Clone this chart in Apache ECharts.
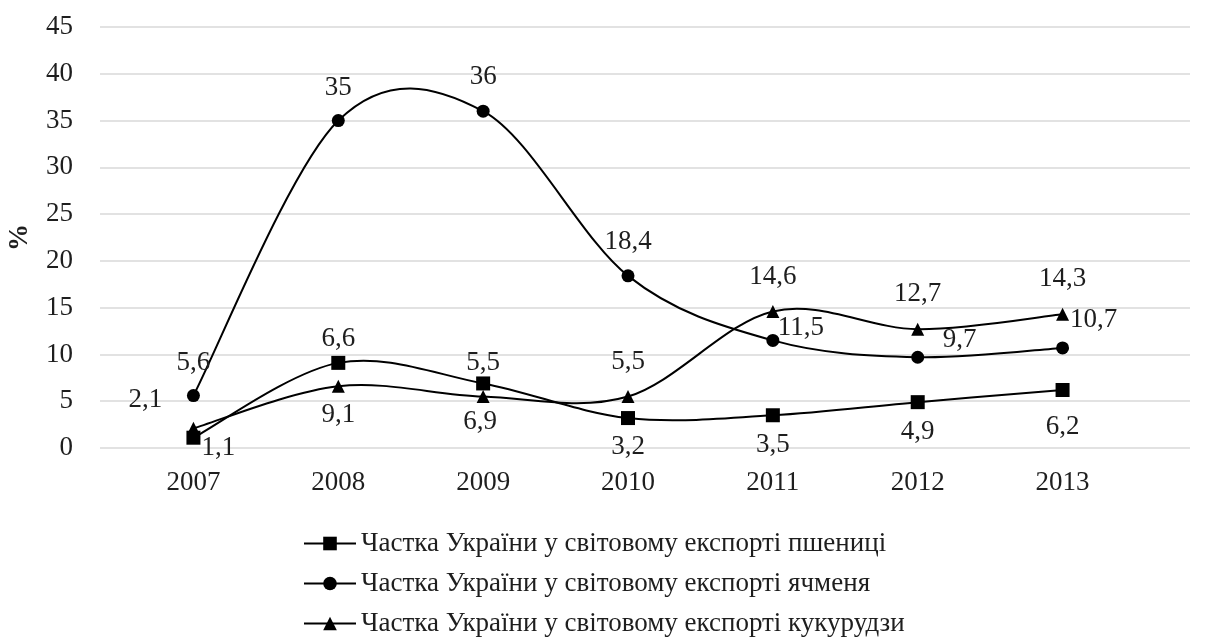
<!DOCTYPE html>
<html>
<head>
<meta charset="utf-8">
<script src="https://cdn.jsdelivr.net/npm/echarts@6/dist/echarts.min.js"></script>
<style>
  html, body { margin: 0; padding: 0; background: #fff; }
  #chart { width: 1205px; height: 641px; }
</style>
</head>
<body>
<div id="chart"></div>
<script>
// Years on the category axis
const years = ['2007', '2008', '2009', '2010', '2011', '2012', '2013'];

// Ukraine's share of world exports, %
const wheat  = [1.1, 9.1, 6.9, 3.2, 3.5, 4.9, 6.2];
const barley = [5.6, 35, 36, 18.4, 11.5, 9.7, 10.7];
const maize  = [2.1, 6.6, 5.5, 5.5, 14.6, 12.7, 14.3];

// Series names (legend text)
const nameWheat  = 'Частка України у світовому експорті пшениці';
const nameBarley = 'Частка України у світовому експорті ячменя';
const nameMaize  = 'Частка України у світовому експорті кукурудзи';

// Value axis scale
const yMin = 0, yMax = 45, yStep = 5;

// Label placement relative to each marker centre, [dx, dy] in px
const wheatLabelShift  = [[25, 10], [0, 52], [-3, 38], [0, 29], [0, 30], [0, 30], [0, 37]];
const barleyLabelShift = [[0, -33], [0, -33], [0, -34], [0, -34], [28, -13], [42, -17], [31, -28]];
const maizeLabelShift  = [[-48, -28], [0, -47], [0, -34], [0, -35], [0, -35], [0, -35], [0, -35]];

const FONT = '"Liberation Serif", "Times New Roman", serif';
const TEXT = '#1e1e1e';
const FS = 27;

function withLabels(values, shifts) {
  return values.map((v, i) => ({
    value: v,
    label: { offset: shifts[i] }
  }));
}

// Markers and value labels; the connecting curve is drawn separately
function markerSeries(name, symbol, size, values, shifts) {
  return {
    name: name,
    type: 'line',
    xAxisIndex: 0,
    yAxisIndex: 0,
    z: 3,
    symbol: symbol,
    symbolSize: size,
    lineStyle: { color: '#000', width: 2, opacity: 0 },
    itemStyle: { color: '#000' },
    label: {
      show: true,
      position: 'inside',
      color: TEXT,
      fontFamily: FONT,
      fontSize: FS,
      formatter: p => String(p.value).replace('.', ',')
    },
    emphasis: { disabled: true },
    data: withLabels(values, shifts)
  };
}

// Smooth curve through the points (cardinal spline, Bezier segments),
// positioned with the chart's own axes via api.coord
function curveSeries(values) {
  return {
    type: 'custom',
    coordinateSystem: 'cartesian2d',
    xAxisIndex: 0,
    yAxisIndex: 0,
    z: 2,
    silent: true,
    encode: { x: 0, y: 1 },
    data: [[0, values[0]]],
    renderItem: (params, api) => {
      const pts = values.map((v, i) => api.coord([i, v]));
      const n = pts.length;
      let d = 'M' + pts[0][0] + ' ' + pts[0][1];
      for (let i = 0; i < n - 1; i++) {
        const p0 = pts[Math.max(i - 1, 0)];
        const p1 = pts[i];
        const p2 = pts[i + 1];
        const p3 = pts[Math.min(i + 2, n - 1)];
        const c1x = p1[0] + (p2[0] - p0[0]) / 6;
        const c1y = p1[1] + (p2[1] - p0[1]) / 6;
        const c2x = p2[0] - (p3[0] - p1[0]) / 6;
        const c2y = p2[1] - (p3[1] - p1[1]) / 6;
        d += ' C' + c1x + ' ' + c1y + ' ' + c2x + ' ' + c2y + ' ' + p2[0] + ' ' + p2[1];
      }
      return {
        type: 'path',
        shape: { pathData: d },
        style: { fill: null, stroke: '#000', lineWidth: 2 }
      };
    }
  };
}

const chart = echarts.init(document.getElementById('chart'), null, { renderer: 'canvas' });

chart.setOption({
  animation: false,
  backgroundColor: '#fff',
  textStyle: { fontFamily: FONT },
  grid: [
    // data area
    { left: 121, right: 70, top: 27, bottom: 193, outerBoundsMode: 'none' },
    // full-width gridline band with the value scale
    { left: 100, right: 15, top: 27, bottom: 193, outerBoundsMode: 'none' }
  ],
  xAxis: [
    {
      type: 'category',
      gridIndex: 0,
      data: years,
      boundaryGap: true,
      axisLine: { show: false },
      axisTick: { show: false },
      axisLabel: { color: TEXT, fontFamily: FONT, fontSize: FS, margin: 21 }
    },
    {
      type: 'value',
      gridIndex: 1,
      show: false,
      min: 0,
      max: 1
    }
  ],
  yAxis: [
    {
      type: 'value',
      gridIndex: 0,
      min: yMin, max: yMax, interval: yStep,
      axisLine: { show: false },
      axisTick: { show: false },
      axisLabel: { show: false },
      splitLine: { show: false }
    },
    {
      type: 'value',
      gridIndex: 1,
      min: yMin, max: yMax, interval: yStep,
      name: '%',
      nameLocation: 'middle',
      nameRotate: 90,
      nameGap: 66,
      nameTextStyle: { color: TEXT, fontFamily: FONT, fontSize: FS, fontWeight: 'bold' },
      axisLine: { show: false },
      axisTick: { show: false },
      axisLabel: { color: TEXT, fontFamily: FONT, fontSize: FS, margin: 27 },
      splitLine: { show: true, lineStyle: { color: '#d9d9d9', width: 1.5 } }
    }
  ],
  legend: {
    orient: 'vertical',
    left: 303,
    top: 530,
    padding: 0,
    itemWidth: 52,
    itemHeight: 17,
    itemGap: 13,
    lineStyle: { color: '#000', width: 2, opacity: 1 },
    textStyle: { color: TEXT, fontFamily: FONT, fontSize: FS },
    data: [nameWheat, nameBarley, nameMaize]
  },
  series: [
    curveSeries(wheat),
    curveSeries(barley),
    curveSeries(maize),
    markerSeries(nameWheat, 'rect', 14, wheat, wheatLabelShift),
    markerSeries(nameBarley, 'circle', 13, barley, barleyLabelShift),
    markerSeries(nameMaize, 'triangle', 13, maize, maizeLabelShift)
  ]
});
</script>
</body>
</html>
